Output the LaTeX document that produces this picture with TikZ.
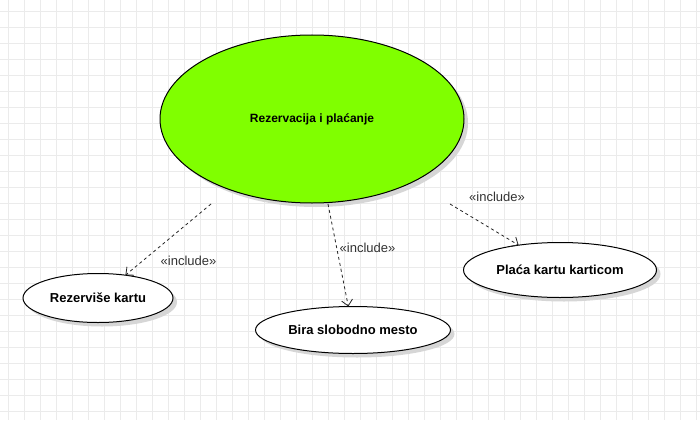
\documentclass[tikz,border=0pt]{standalone}
\usepackage{fontspec}
\setmainfont{Liberation Sans}
\usetikzlibrary{arrows.meta,shapes.geometric}
\definecolor{ucgreen}{HTML}{80FF00}
\definecolor{gridc}{HTML}{EBEBEB}
\definecolor{lblc}{HTML}{333333}
\begin{document}
\begin{tikzpicture}[x=1pt,y=-1pt,
  uc/.style={ellipse,draw=black,line width=1pt,inner sep=0pt,outer sep=0pt,text=black,font=\fontsize{13}{15}\selectfont\bfseries},
  ucshadow/.style={ellipse,fill=black!16,draw=none,inner sep=0pt,outer sep=0pt},
  inc/.style={dash pattern=on 3pt off 3pt,line width=0.8pt,draw=black!85,-{Straight Barb[length=6pt,width=11pt,line width=0.8pt]}},
  lbl/.style={font=\fontsize{13}{15}\selectfont,text=lblc,inner sep=0pt}]
\useasboundingbox (0,0) rectangle (700,420);
\fill[white] (0,0) rectangle (700,420);
\foreach \gx in {8,24,...,696} \draw[gridc,line width=0.8pt] (\gx,0) -- (\gx,420);
\foreach \gy in {11,27,...,411} \draw[gridc,line width=0.8pt] (0,\gy) -- (700,\gy);
% shadows
\node[ucshadow,minimum width=304pt,minimum height=168pt] (shm) at (316,123) {};
\node[ucshadow,minimum width=150pt,minimum height=49pt] (shr) at (102,302) {};
\node[ucshadow,minimum width=195pt,minimum height=47pt] (shb) at (357,334) {};
\node[ucshadow,minimum width=193pt,minimum height=55pt] (shp) at (564,274) {};
% use cases
\node[uc,fill=ucgreen,minimum width=304pt,minimum height=168pt,font=\fontsize{12}{14}\selectfont\bfseries] (main) at (312,119) {Rezervacija i plaćanje};
\node[uc,fill=white,minimum width=150pt,minimum height=49pt] (rez) at (98,298) {Rezerviše kartu};
\node[uc,fill=white,minimum width=195pt,minimum height=47pt] (bira) at (353,330) {Bira slobodno mesto};
\node[uc,fill=white,minimum width=193pt,minimum height=55pt] (plac) at (560,270) {Plaća kartu karticom};
% connector starts
\coordinate (s1) at (211,204);
\coordinate (s2) at (328,204);
\coordinate (s3) at (450,204);
\draw[inc] (s1) -- (rez);
\draw[inc] (s2) -- (bira);
\draw[inc] (s3) -- (plac);
% labels
\node[lbl] (l1) at (188.5,261) {«include»};
\node[lbl] (l2) at (367.5,248) {«include»};
\node[lbl] (l3) at (497,197) {«include»};
\end{tikzpicture}
\end{document}
